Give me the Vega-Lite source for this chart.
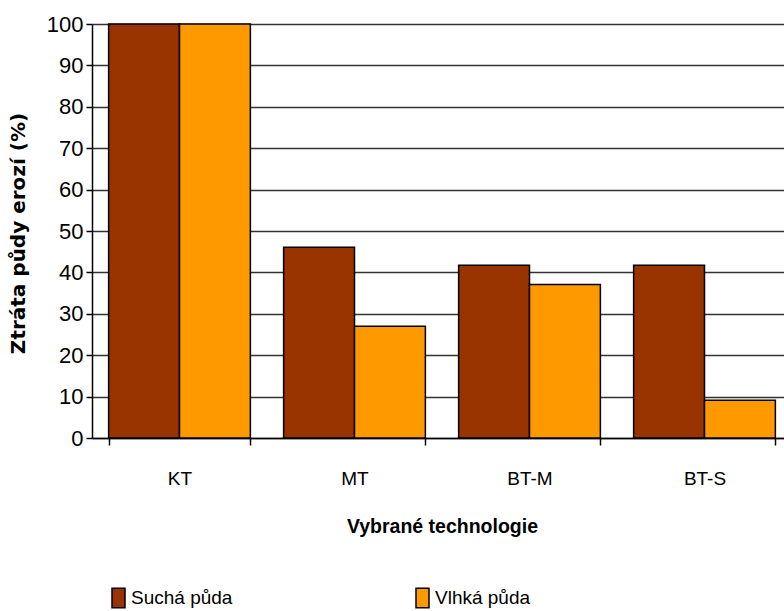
{
  "$schema": "https://vega.github.io/schema/vega-lite/v6.json",
  "width": 692,
  "height": 414,
  "autosize": {"type": "none"},
  "padding": {"left": 92, "top": 24, "right": 0, "bottom": 173},
  "background": "white",
  "data": {
    "values": [
      {"tech": "KT", "soil": "Suchá půda", "value": 100},
      {"tech": "KT", "soil": "Vlhká půda", "value": 100},
      {"tech": "MT", "soil": "Suchá půda", "value": 46.1},
      {"tech": "MT", "soil": "Vlhká půda", "value": 27},
      {"tech": "BT-M", "soil": "Suchá půda", "value": 41.7},
      {"tech": "BT-M", "soil": "Vlhká půda", "value": 37.1},
      {"tech": "BT-S", "soil": "Suchá půda", "value": 41.7},
      {"tech": "BT-S", "soil": "Vlhká půda", "value": 9.1}
    ]
  },
  "mark": {"type": "bar", "stroke": "black", "strokeWidth": 1.5},
  "encoding": {
    "x": {
      "field": "tech",
      "type": "nominal",
      "sort": ["KT", "MT", "BT-M", "BT-S"],
      "scale": {"range": [0, 700], "paddingInner": 0.19, "paddingOuter": 0.095},
      "axis": {
        "title": "Vybrané technologie",
        "labelAngle": 0,
        "tickBand": "extent",
        "tickSize": 7,
        "tickColor": "black",
        "tickWidth": 1.5,
        "domainColor": "black",
        "domainWidth": 1.5,
        "labelFont": "Liberation Sans",
        "labelFontSize": 19,
        "labelColor": "black",
        "labelPadding": 24,
        "titleFont": "Liberation Sans",
        "titleFontWeight": "bold",
        "titleFontSize": 19.5,
        "titleColor": "black",
        "titlePadding": 29,
        "titleAnchor": "middle",
        "titleX": 350
      }
    },
    "xOffset": {"field": "soil", "type": "nominal", "sort": ["Suchá půda", "Vlhká půda"], "scale": {"paddingInner": 0, "paddingOuter": 0}},
    "y": {
      "field": "value",
      "type": "quantitative",
      "scale": {"domain": [0, 100], "nice": false},
      "axis": {
        "title": "Ztráta půdy erozí (%)",
        "values": [0, 10, 20, 30, 40, 50, 60, 70, 80, 90, 100],
        "grid": true,
        "gridColor": "#333333",
        "gridWidth": 1.5,
        "tickSize": 6,
        "tickColor": "black",
        "tickWidth": 1.5,
        "domainColor": "black",
        "domainWidth": 1.5,
        "labelFont": "Liberation Sans",
        "labelFontSize": 22,
        "labelColor": "black",
        "labelPadding": 3,
        "titleFont": "DejaVu Sans",
        "titleFontWeight": "bold",
        "titleFontSize": 20,
        "titleColor": "black",
        "titleX": -74,
        "titleY": 209,
        "titleAnchor": "middle",
        "titleAngle": -90,
        "titleBaseline": "middle"
      }
    },
    "color": {
      "field": "soil",
      "type": "nominal",
      "sort": ["Suchá půda", "Vlhká půda"],
      "scale": {"domain": ["Suchá půda", "Vlhká půda"], "range": ["#993300", "#FF9900"]},
      "legend": {
        "title": null,
        "orient": "none",
        "legendX": 17,
        "legendY": 564,
        "direction": "horizontal",
        "columns": 2,
        "columnPadding": 180,
        "symbolType": "M-1,-1.5L1,-1.5L1,1.5L-1,1.5Z",
        "symbolSize": 169,
        "symbolStrokeColor": "black",
        "symbolStrokeWidth": 1.5,
        "symbolOpacity": 1,
        "labelFont": "Liberation Sans",
        "labelFontSize": 19,
        "labelColor": "black",
        "labelOffset": 3
      }
    }
  },
  "config": {"view": {"stroke": null}}
}
